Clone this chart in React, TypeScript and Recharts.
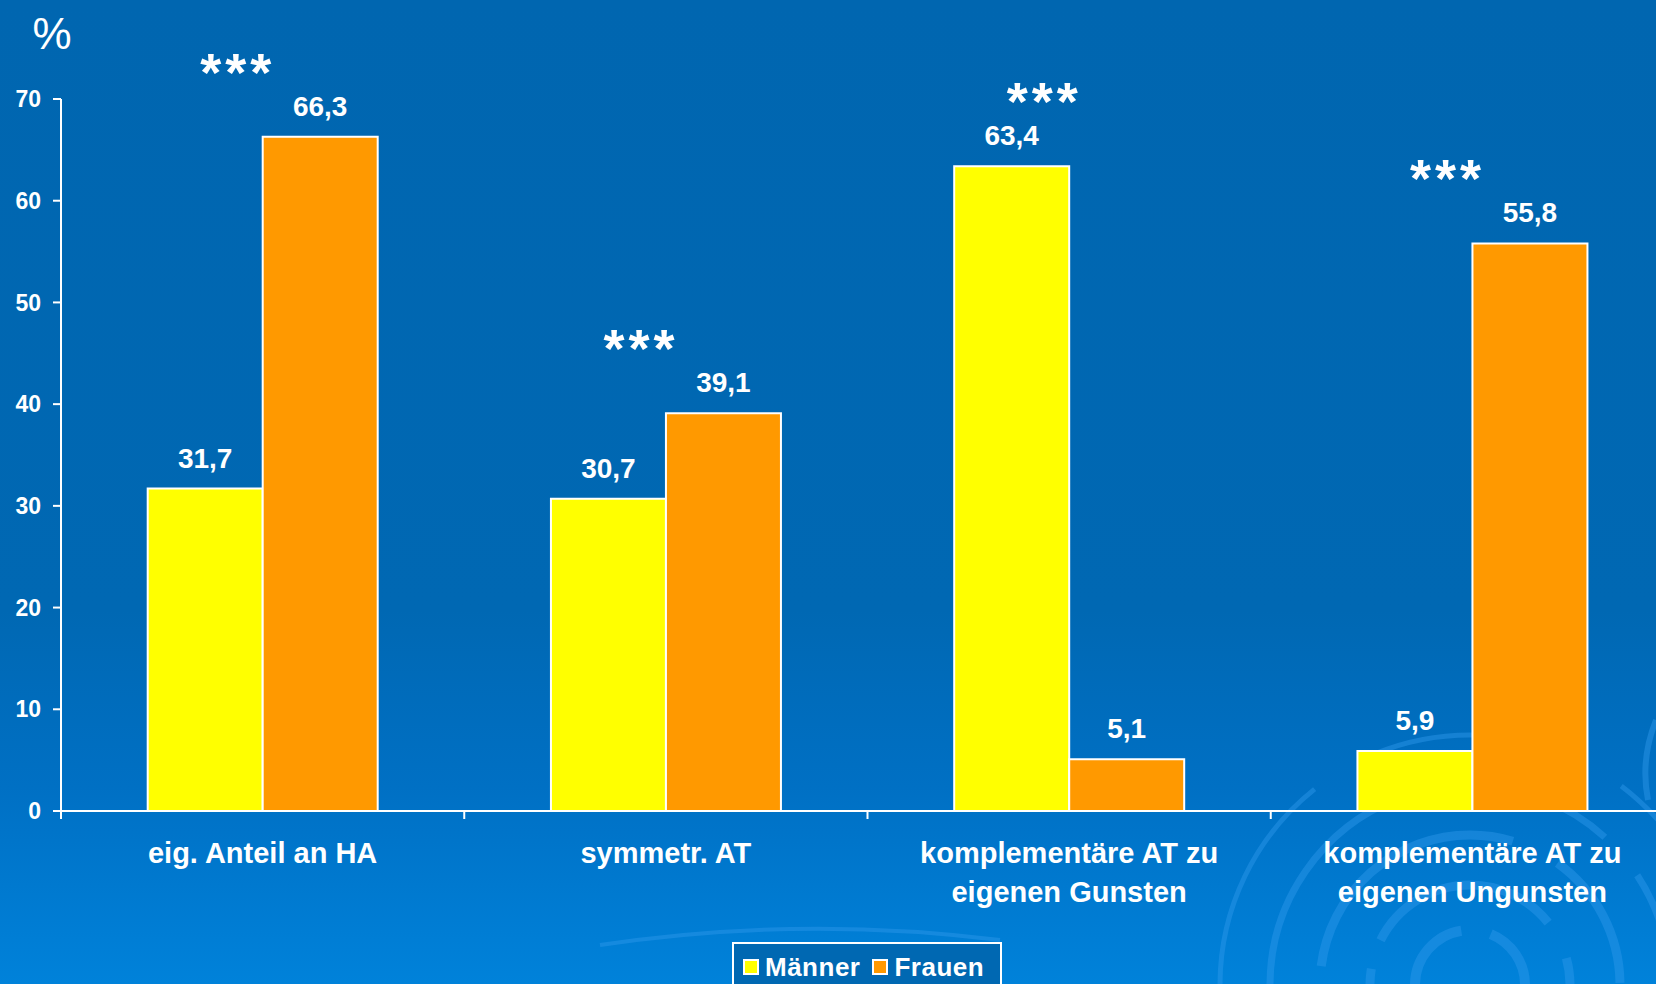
import React from "react";
import { BarChart, Bar, XAxis, YAxis, LabelList, Legend } from "recharts";

const categories = [
  "eig. Anteil an HA",
  "symmetr. AT",
  "komplementäre AT zu\neigenen Gunsten",
  "komplementäre AT zu\neigenen Ungunsten",
];
const maenner = [31.7, 30.7, 63.4, 5.9];
const frauen = [66.3, 39.1, 5.1, 55.8];
const significance = ["***", "***", "***", "***"];
const yTicks = [0, 10, 20, 30, 40, 50, 60, 70];

const data = categories.map((name, i) => ({
  name,
  maenner: maenner[i],
  frauen: frauen[i],
}));

// layout
const CHART_W = 1700;
const CHART_H = 984;
const X_AXIS_H = 173;
const MARGIN = { top: 99, right: 26, bottom: 0, left: 0 };
const Y_AXIS_W = 61;
const plotLeft = MARGIN.left + Y_AXIS_W;
const plotRight = CHART_W - MARGIN.right;
const axisY = CHART_H - X_AXIS_H;
const band = (plotRight - plotLeft) / categories.length;

const FONT = "'Liberation Sans', Arial, Helvetica, sans-serif";

const fmt = (v: number) => v.toFixed(1).replace(".", ",");

const CategoryTick = (props: any) => {
  const { x, payload } = props;
  const lines = String(payload.value).split("\n");
  const bx = x - band / 2;
  return (
    <g>
      <line x1={bx} x2={bx} y1={axisY} y2={axisY + 8} stroke="#fff" strokeWidth={2} />
      <text
        x={x}
        y={axisY + 52}
        textAnchor="middle"
        fill="#fff"
        fontFamily={FONT}
        fontWeight="bold"
        fontSize={29}
      >
        {lines.map((l, i) => (
          <tspan key={i} x={x} dy={i === 0 ? 0 : 39}>
            {l}
          </tspan>
        ))}
      </text>
    </g>
  );
};

// stars placed above the taller bar of each group
const StarLabel = (props: any) => {
  const { x, y, height, index } = props;
  const perUnit = height / frauen[index];
  const bottom = y + height;
  const top = bottom - Math.max(maenner[index], frauen[index]) * perUnit;
  return (
    <text
      x={x - 25}
      y={top - 46}
      textAnchor="middle"
      fill="#fff"
      fontFamily={FONT}
      fontWeight="bold"
      fontSize={54}
      letterSpacing={4}
    >
      {significance[index]}
    </text>
  );
};

const LegendBox = () => (
  <div
    style={{
      boxSizing: "border-box",
      width: 270,
      height: 60,
      border: "2px solid #fff",
      background: "#0068b2",
      display: "flex",
      alignItems: "flex-start",
      paddingTop: 10,
      paddingLeft: 9,
      fontFamily: FONT,
      fontWeight: "bold",
      fontSize: 26,
      color: "#fff",
      lineHeight: "26px",
    }}
  >
    {[
      { label: "Männer", color: "#ffff00" },
      { label: "Frauen", color: "#ff9900" },
    ].map((it, i) => (
      <div key={i} style={{ display: "flex", alignItems: "center", marginRight: 12 }}>
        <span
          style={{
            display: "inline-block",
            width: 16,
            height: 16,
            background: it.color,
            border: "2px solid #fff",
            boxSizing: "border-box",
            marginRight: 6,
          }}
        />
        <span style={{ letterSpacing: 0.5 }}>{it.label}</span>
      </div>
    ))}
  </div>
);

const Decoration = () => (
  <svg
    width={1656}
    height={984}
    style={{ position: "absolute", left: 0, top: 0, pointerEvents: "none" }}
  >
    <g fill="none" stroke="#2f98ea" strokeOpacity={0.45}>
      <circle cx={1470} cy={985} r={55} strokeWidth={10} strokeDasharray="110 30" />
      <circle cx={1470} cy={985} r={100} strokeWidth={9} strokeDasharray="200 40 90 30" />
      <circle cx={1470} cy={985} r={150} strokeWidth={9} strokeDasharray="260 50 140 40" />
      <circle cx={1470} cy={985} r={200} strokeWidth={7} strokeDasharray="300 60 160 50" />
      <circle cx={1470} cy={985} r={250} strokeWidth={5} strokeDasharray="340 70 200 60" />
      <path d="M 1656 720 Q 1640 760 1648 800" strokeWidth={6} />
      <path d="M 600 945 Q 800 915 1000 940" strokeWidth={4} />
    </g>
  </svg>
);

export default function App() {
  return (
    <div
      style={{
        position: "fixed",
        left: 0,
        top: 0,
        width: 1656,
        height: 984,
        overflow: "hidden",
        background: "linear-gradient(to bottom, #0066b0 0%, #0068b3 62%, #0070c4 80%, #0082da 100%)",
      }}
    >
      <Decoration />
      <div style={{ position: "absolute", left: 0, top: 0 }}>
        <BarChart
          width={CHART_W}
          height={CHART_H}
          data={data}
          margin={MARGIN}
          barCategoryGap="21.5%"
          barGap={0}
        >
          <XAxis
            dataKey="name"
            height={X_AXIS_H}
            axisLine={{ stroke: "#fff", strokeWidth: 2 }}
            tickLine={false}
            tick={<CategoryTick />}
            interval={0}
          />
          <YAxis
            width={Y_AXIS_W}
            domain={[0, 70]}
            ticks={yTicks}
            interval={0}
            axisLine={{ stroke: "#fff", strokeWidth: 2 }}
            tickLine={{ stroke: "#fff", strokeWidth: 2 }}
            tickSize={8}
            tickMargin={12}
            tick={{ fill: "#fff", fontFamily: FONT, fontWeight: "bold", fontSize: 23 }}
            label={{
              content: () => (
                <text x={52} y={49} textAnchor="middle" fill="#fff" fontFamily={FONT} fontSize={44}>
                  %
                </text>
              ),
            }}
          />
          <Legend
            layout="horizontal"
            verticalAlign="middle"
            align="center"
            wrapperStyle={{ left: 732, top: 942, width: 270, height: 60 }}
            content={() => <LegendBox />}
          />
          <Bar dataKey="maenner" name="Männer" fill="#ffff00" stroke="#fff" strokeWidth={2} isAnimationActive={false}>
            <LabelList
              dataKey="maenner"
              position="top"
              offset={21}
              formatter={(v: any) => fmt(Number(v))}
              fill="#fff"
              fontFamily={FONT}
              fontWeight="bold"
              fontSize={28}
            />
          </Bar>
          <Bar dataKey="frauen" name="Frauen" fill="#ff9900" stroke="#fff" strokeWidth={2} isAnimationActive={false}>
            <LabelList
              dataKey="frauen"
              position="top"
              offset={21}
              formatter={(v: any) => fmt(Number(v))}
              fill="#fff"
              fontFamily={FONT}
              fontWeight="bold"
              fontSize={28}
            />
            <LabelList dataKey="frauen" content={<StarLabel />} />
          </Bar>
        </BarChart>
      </div>
    </div>
  );
}
